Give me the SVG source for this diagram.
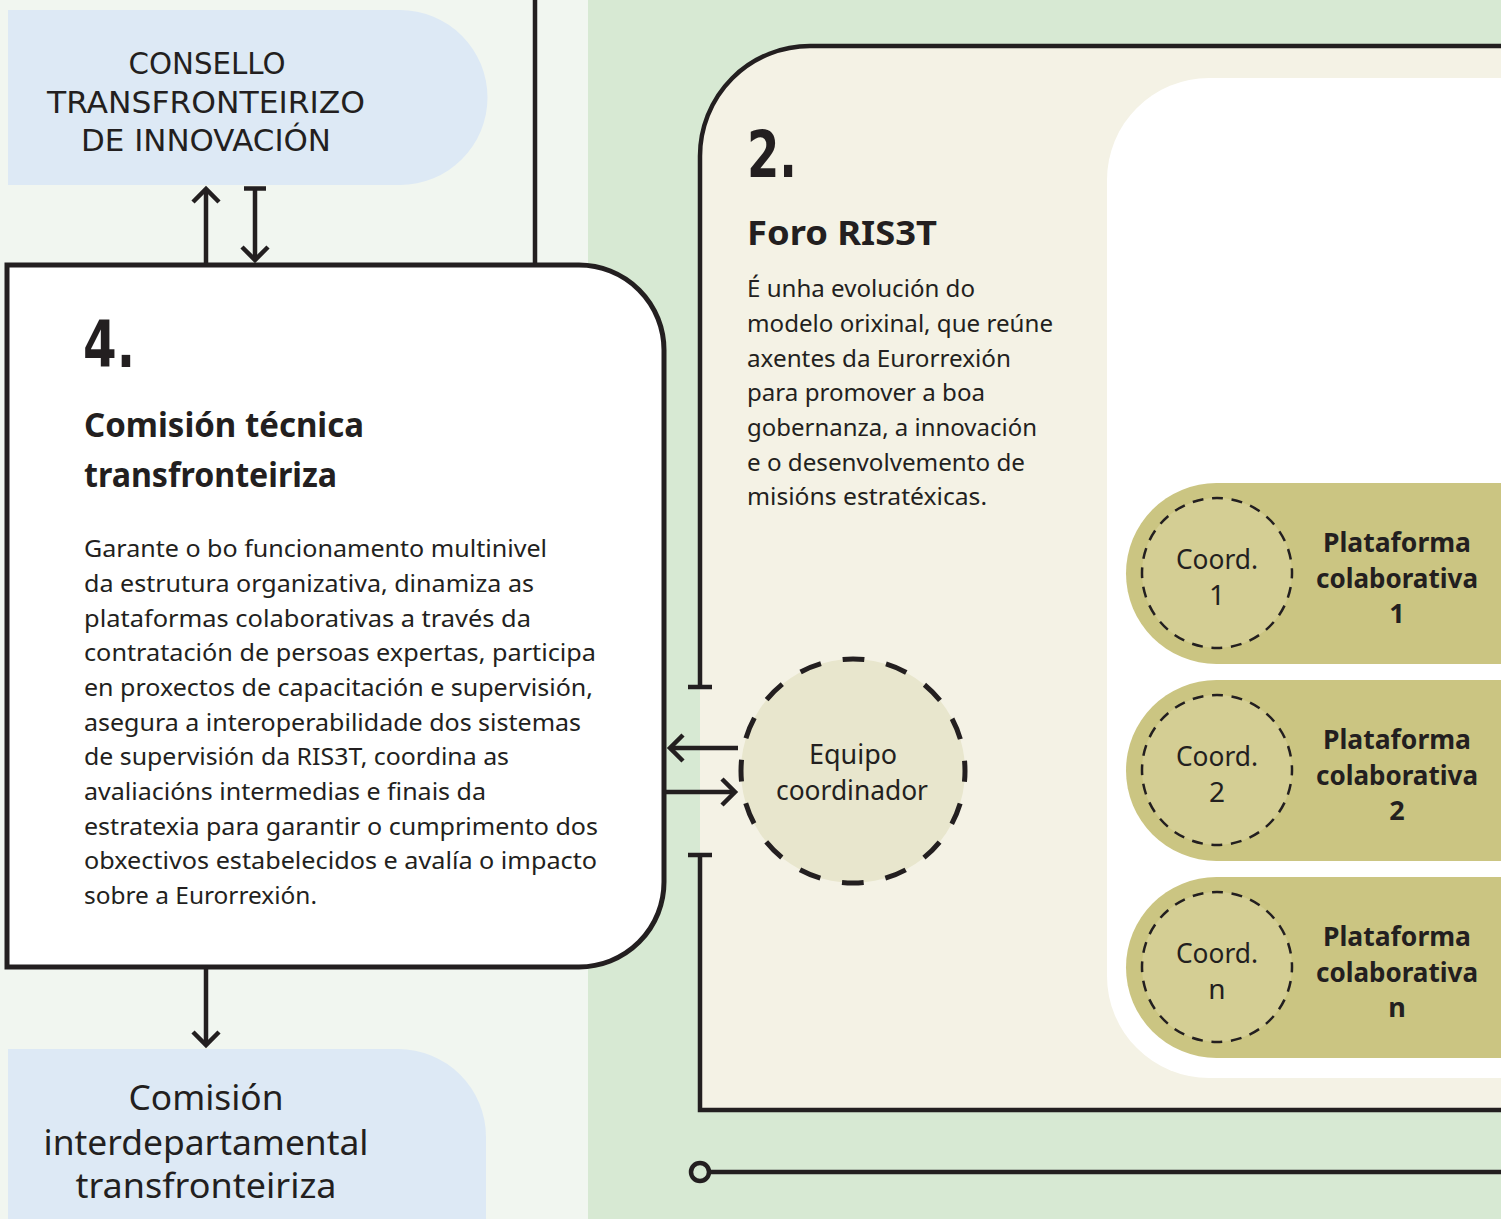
<svg xmlns="http://www.w3.org/2000/svg" width="1501" height="1219" viewBox="0 0 1501 1219">
<defs>
<style>
.ink{fill:#231f20}
.ln{stroke:#231f20;stroke-width:4.5;fill:none}
.body{font-family:"Noto Sans","Open Sans",sans-serif;font-size:23px;fill:#231f20}
.h{font-family:"Noto Sans","Open Sans",sans-serif;font-weight:700;font-size:34px;fill:#231f20}
.num{font-family:"DejaVu Sans Condensed","Liberation Sans Narrow","Noto Sans",sans-serif;font-weight:700;font-size:64px;fill:#231f20}
.cond{font-family:"DejaVu Sans Condensed","Liberation Sans Narrow","Noto Sans",sans-serif;font-size:30px;fill:#231f20;text-anchor:middle}
.big{font-family:"Noto Sans","Open Sans",sans-serif;font-size:35px;fill:#231f20;text-anchor:middle}
.lbl{font-family:"Noto Sans","Open Sans",sans-serif;font-size:28px;fill:#231f20;text-anchor:middle}
.plat{font-family:"Noto Sans","Open Sans",sans-serif;font-weight:700;font-size:27px;fill:#231f20;text-anchor:middle}
.pill{fill:#cbc582}
.cc{fill:#d4ce94;stroke:#231f20;stroke-width:2.5;stroke-dasharray:11 8.63;stroke-dashoffset:5.5}
</style>
<marker id="arr" markerUnits="userSpaceOnUse" markerWidth="34" markerHeight="34" viewBox="-17 -17 34 34" refX="0" refY="0" orient="auto">
<path d="M-13,-13 L0,0 L-13,13" fill="none" stroke="#231f20" stroke-width="4.5"/>
</marker>
</defs>

<rect x="0" y="0" width="588" height="1219" fill="#f1f6f0"/>
<rect x="588" y="0" width="913" height="1219" fill="#d7e9d3"/>

<g id="consello">
<path d="M8 10 L400 10 A87.5 87.5 0 0 1 400 185 L8 185 Z" fill="#dde9f5"/>
<text class="cond" x="207" y="74" textLength="157" lengthAdjust="spacingAndGlyphs">CONSELLO</text>
<text class="cond" x="206" y="113" textLength="318" lengthAdjust="spacingAndGlyphs">TRANSFRONTEIRIZO</text>
<text class="cond" x="206" y="151" textLength="250" lengthAdjust="spacingAndGlyphs">DE INNOVACIÓN</text>
</g>

<g id="comision-interdepartamental">
<path d="M8 1049 L398 1049 A88 88 0 0 1 486 1137 L486 1230 L8 1230 Z" fill="#dde9f5"/>
<text class="big" x="206" y="1110" textLength="155" lengthAdjust="spacingAndGlyphs">Comisión</text>
<text class="big" x="206" y="1155" textLength="325" lengthAdjust="spacingAndGlyphs">interdepartamental</text>
<text class="big" x="206" y="1198" textLength="261" lengthAdjust="spacingAndGlyphs">transfronteiriza</text>
</g>

<g id="foro-ris3t">
<path d="M700 1110 L700 156 A110 110 0 0 1 810 46 L1510 46 L1510 1110 Z" fill="#f4f2e5"/>
<path d="M1209 78 L1510 78 L1510 1078 L1209 1078 A102 102 0 0 1 1107 976 L1107 180 A102 102 0 0 1 1209 78 Z" fill="#ffffff"/>
<path class="ln" d="M700 687 L700 156 A110 110 0 0 1 810 46 L1510 46"/>
<path class="ln" d="M700 855 L700 1110 L1510 1110"/>
<line class="ln" x1="688" y1="687" x2="712" y2="687"/>
<line class="ln" x1="688" y1="855" x2="712" y2="855"/>
<text class="num" x="747" y="177" textLength="50" lengthAdjust="spacingAndGlyphs">2.</text>
<text class="h" x="747" y="245" textLength="190" lengthAdjust="spacingAndGlyphs">Foro RIS3T</text>
<text class="body" x="747" y="297" textLength="228" lengthAdjust="spacingAndGlyphs">É unha evolución do</text>
<text class="body" x="747" y="332" textLength="306" lengthAdjust="spacingAndGlyphs">modelo orixinal, que reúne</text>
<text class="body" x="747" y="367" textLength="264" lengthAdjust="spacingAndGlyphs">axentes da Eurorrexión</text>
<text class="body" x="747" y="401" textLength="238" lengthAdjust="spacingAndGlyphs">para promover a boa</text>
<text class="body" x="747" y="436" textLength="290" lengthAdjust="spacingAndGlyphs">gobernanza, a innovación</text>
<text class="body" x="747" y="471" textLength="278" lengthAdjust="spacingAndGlyphs">e o desenvolvemento de</text>
<text class="body" x="747" y="505" textLength="240" lengthAdjust="spacingAndGlyphs">misións estratéxicas.</text>
</g>

<g id="equipo-coordinador">
<circle cx="853" cy="771" r="112" fill="#e8e6cd" stroke="#231f20" stroke-width="5" stroke-dasharray="22 21.98" stroke-dashoffset="11"/>
<text class="lbl" x="853" y="764" textLength="88" lengthAdjust="spacingAndGlyphs">Equipo</text>
<text class="lbl" x="852" y="800" textLength="152" lengthAdjust="spacingAndGlyphs">coordinador</text>
</g>

<g id="plataforma-1">
<rect class="pill" x="1126" y="483" width="600" height="181" rx="90.5"/>
<circle class="cc" cx="1217" cy="573" r="75"/>
<text class="lbl" x="1217" y="569" textLength="82" lengthAdjust="spacingAndGlyphs">Coord.</text>
<text class="lbl" x="1217" y="605">1</text>
<text class="plat" x="1397" y="552" textLength="148" lengthAdjust="spacingAndGlyphs">Plataforma</text>
<text class="plat" x="1397" y="588" textLength="162" lengthAdjust="spacingAndGlyphs">colaborativa</text>
<text class="plat" x="1397" y="623">1</text>
</g>

<g id="plataforma-2">
<rect class="pill" x="1126" y="680" width="600" height="181" rx="90.5"/>
<circle class="cc" cx="1217" cy="770" r="75"/>
<text class="lbl" x="1217" y="766" textLength="82" lengthAdjust="spacingAndGlyphs">Coord.</text>
<text class="lbl" x="1217" y="802">2</text>
<text class="plat" x="1397" y="749" textLength="148" lengthAdjust="spacingAndGlyphs">Plataforma</text>
<text class="plat" x="1397" y="785" textLength="162" lengthAdjust="spacingAndGlyphs">colaborativa</text>
<text class="plat" x="1397" y="820">2</text>
</g>

<g id="plataforma-n">
<rect class="pill" x="1126" y="877" width="600" height="181" rx="90.5"/>
<circle class="cc" cx="1217" cy="967" r="75"/>
<text class="lbl" x="1217" y="963" textLength="82" lengthAdjust="spacingAndGlyphs">Coord.</text>
<text class="lbl" x="1217" y="999">n</text>
<text class="plat" x="1397" y="946" textLength="148" lengthAdjust="spacingAndGlyphs">Plataforma</text>
<text class="plat" x="1397" y="982" textLength="162" lengthAdjust="spacingAndGlyphs">colaborativa</text>
<text class="plat" x="1397" y="1017">n</text>
</g>

<g id="comision-tecnica">
<path d="M7 265 L579 265 A85 85 0 0 1 664 350 L664 882 A85 85 0 0 1 579 967 L7 967 Z" fill="#ffffff" stroke="#231f20" stroke-width="5"/>
<text class="num" x="83" y="367" textLength="52" lengthAdjust="spacingAndGlyphs">4.</text>
<text class="h" x="84" y="437" textLength="280" lengthAdjust="spacingAndGlyphs">Comisión técnica</text>
<text class="h" x="84" y="487" textLength="253" lengthAdjust="spacingAndGlyphs">transfronteiriza</text>
<text class="body" x="84" y="557" textLength="463" lengthAdjust="spacingAndGlyphs">Garante o bo funcionamento multinivel</text>
<text class="body" x="84" y="592" textLength="450" lengthAdjust="spacingAndGlyphs">da estrutura organizativa, dinamiza as</text>
<text class="body" x="84" y="627" textLength="447" lengthAdjust="spacingAndGlyphs">plataformas colaborativas a través da</text>
<text class="body" x="84" y="661" textLength="512" lengthAdjust="spacingAndGlyphs">contratación de persoas expertas, participa</text>
<text class="body" x="84" y="696" textLength="509" lengthAdjust="spacingAndGlyphs">en proxectos de capacitación e supervisión,</text>
<text class="body" x="84" y="731" textLength="497" lengthAdjust="spacingAndGlyphs">asegura a interoperabilidade dos sistemas</text>
<text class="body" x="84" y="765" textLength="425" lengthAdjust="spacingAndGlyphs">de supervisión da RIS3T, coordina as</text>
<text class="body" x="84" y="800" textLength="402" lengthAdjust="spacingAndGlyphs">avaliacións intermedias e finais da</text>
<text class="body" x="84" y="835" textLength="514" lengthAdjust="spacingAndGlyphs">estratexia para garantir o cumprimento dos</text>
<text class="body" x="84" y="869" textLength="513" lengthAdjust="spacingAndGlyphs">obxectivos estabelecidos e avalía o impacto</text>
<text class="body" x="84" y="904" textLength="233" lengthAdjust="spacingAndGlyphs">sobre a Eurorrexión.</text>
</g>

<g id="connectors">
<line class="ln" x1="535" y1="0" x2="535" y2="263"/>
<line class="ln" x1="206" y1="263" x2="206" y2="189" marker-end="url(#arr)"/>
<line class="ln" x1="255" y1="188" x2="255" y2="260" marker-end="url(#arr)"/>
<line class="ln" x1="244" y1="188.5" x2="266" y2="188.5"/>
<line class="ln" x1="206" y1="969" x2="206" y2="1045" marker-end="url(#arr)"/>
<line class="ln" x1="738" y1="748" x2="670" y2="748" marker-end="url(#arr)"/>
<line class="ln" x1="666" y1="792" x2="735" y2="792" marker-end="url(#arr)"/>
<circle class="ln" cx="700" cy="1172" r="9"/>
<line class="ln" x1="709" y1="1172" x2="1510" y2="1172"/>
</g>
</svg>
